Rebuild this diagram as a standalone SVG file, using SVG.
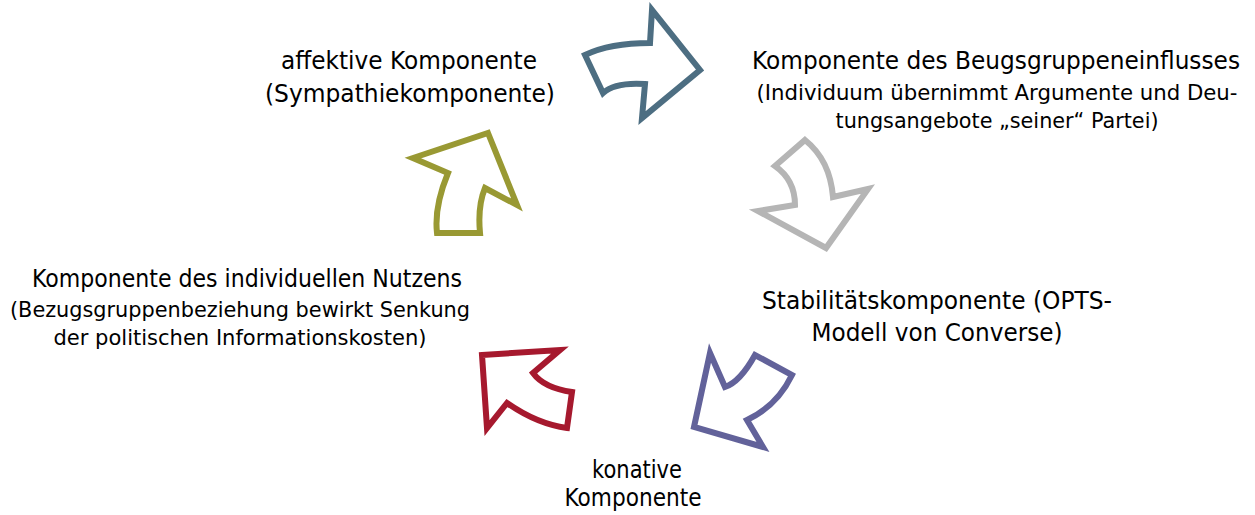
<svg xmlns="http://www.w3.org/2000/svg" width="1255" height="515" viewBox="0 0 1255 515">
  <style>
    .lbl { font-family: "DejaVu Sans", Verdana, sans-serif; fill: #000; text-anchor: middle; }
    .big { font-size: 24px; }
    .sml { font-size: 22px; }
    .arr { fill: #fff; stroke-width: 6; stroke-linejoin: miter; stroke-miterlimit: 10; }
  </style>
  <rect width="1255" height="515" fill="#fff"/>

  <!-- cycle arrows -->
  <g id="connectors">
    <path class="arr" stroke="#4D6E82" d="M585,55 Q610,43 650,43 L652,10 L700,70 L642,118 L645,84 Q615,82 603,93 Z"/>
    <path class="arr" stroke="#B5B5B5" d="M805,140 Q830,160 833,197 L868,189 L826,248 L758,211 L795,205 Q795,180 775,166 Z"/>
    <path class="arr" stroke="#62629A" d="M694,427 L710,353 L725,387 Q740,382 755,355 L792,375 Q777,406 747,420 L763,447 Z"/>
    <path class="arr" stroke="#A6192E" d="M482,355 L560,350 L533,373 Q544,388 572,392 L567,428 Q537,424 507,403 L487,428 Z"/>
    <path class="arr" stroke="#999933" d="M488,133 L517,205 L485,188 Q477.5,206 480,233 L437,233 Q434,207 448,173 L413,158 Z"/>
  </g>

  <g id="node-affektiv">
    <text class="lbl big" x="409" y="69" textLength="256" lengthAdjust="spacingAndGlyphs">affektive Komponente</text>
    <text class="lbl big" x="410" y="102" textLength="290" lengthAdjust="spacingAndGlyphs">(Sympathiekomponente)</text>
  </g>

  <g id="node-bezugsgruppe">
    <text class="lbl big" x="996" y="69" textLength="488" lengthAdjust="spacingAndGlyphs">Komponente des Beugsgruppeneinflusses</text>
    <text class="lbl sml" x="997" y="100" textLength="481" lengthAdjust="spacingAndGlyphs">(Individuum übernimmt Argumente und Deu-</text>
    <text class="lbl sml" x="997" y="128" textLength="323" lengthAdjust="spacingAndGlyphs">tungsangebote „seiner“ Partei)</text>
  </g>

  <g id="node-stabilitaet">
    <text class="lbl big" x="937" y="309" textLength="350" lengthAdjust="spacingAndGlyphs">Stabilitätskomponente (OPTS-</text>
    <text class="lbl big" x="937" y="341" textLength="251" lengthAdjust="spacingAndGlyphs">Modell von Converse)</text>
  </g>

  <g id="node-konativ">
    <text class="lbl big" x="637" y="478" textLength="90" lengthAdjust="spacingAndGlyphs">konative</text>
    <text class="lbl big" x="633" y="506" textLength="137" lengthAdjust="spacingAndGlyphs">Komponente</text>
  </g>

  <g id="node-nutzen">
    <text class="lbl big" x="247" y="287" textLength="430" lengthAdjust="spacingAndGlyphs">Komponente des individuellen Nutzens</text>
    <text class="lbl sml" x="240" y="317" textLength="460" lengthAdjust="spacingAndGlyphs">(Bezugsgruppenbeziehung bewirkt Senkung</text>
    <text class="lbl sml" x="240" y="345" textLength="373" lengthAdjust="spacingAndGlyphs">der politischen Informationskosten)</text>
  </g>
</svg>
